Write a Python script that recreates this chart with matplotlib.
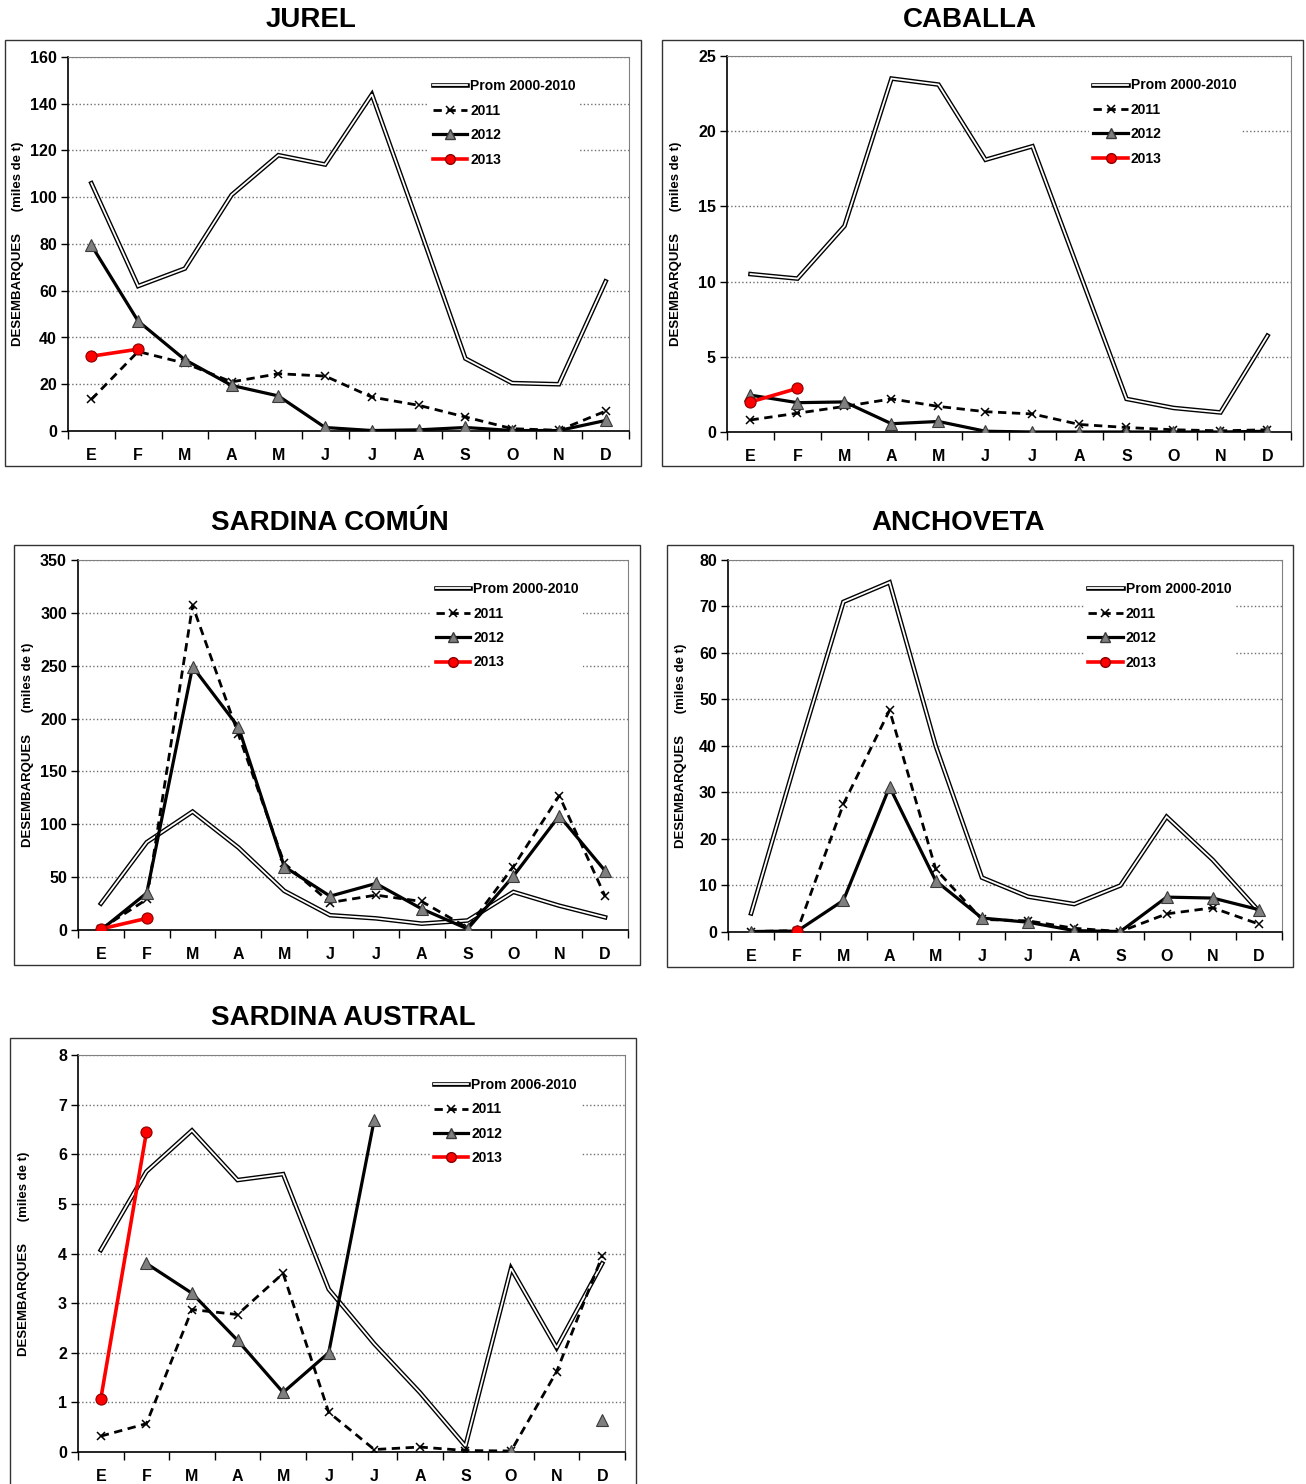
import numpy as np
import matplotlib
matplotlib.use('Agg')
import matplotlib.pyplot as plt
from matplotlib.lines import Line2D
from matplotlib.patches import Rectangle
from matplotlib.legend_handler import HandlerTuple

nan = np.nan
meses = ['E', 'F', 'M', 'A', 'M', 'J', 'J', 'A', 'S', 'O', 'N', 'D']

# JUREL
jurel_prom = [106, 62, 69.5, 101, 118, 114, 144, 88, 31, 20.5, 20, 64]
jurel_2011 = [13.5, 34, 29, 21, 24.5, 23.5, 14.5, 11, 6, 1, 0.3, 8.5]
jurel_2012 = [79.5, 47, 30.5, 19.5, 15, 1.5, 0.2, 0.5, 1.5, 0.2, 0.2, 4.5]
jurel_2013 = [32, 35]

# CABALLA
caballa_prom = [10.5, 10.2, 13.7, 23.5, 23.1, 18.1, 19.0, 10.6, 2.2, 1.6, 1.3, 6.4]
caballa_2011 = [0.8, 1.25, 1.7, 2.2, 1.7, 1.35, 1.2, 0.5, 0.3, 0.15, 0.08, 0.15]
caballa_2012 = [2.45, 1.95, 2.0, 0.55, 0.7, 0.05, 0.0, 0.0, 0.0, 0.0, 0.0, 0.05]
caballa_2013 = [2.0, 2.9]

# SARDINA COMUN
scomun_prom = [25, 83, 112, 78, 37, 14, 11, 6, 9, 36, 23, 12]
scomun_2011 = [1, 29, 307, 185, 63, 26, 33, 27, 2, 60, 127, 32]
scomun_2012 = [0, 35, 249, 192, 60, 32, 44, 20, 1, 51, 108, 56]
scomun_2013 = [1, 11]

# ANCHOVETA
anch_prom = [4, 38, 71, 75.2, 40, 11.7, 7.6, 6, 10, 24.8, 15.5, 4.5]
anch_2011 = [0.1, 0.3, 27.5, 47.7, 13.5, 2.7, 2.4, 0.8, 0.1, 3.9, 5.2, 1.7]
anch_2012 = [0.1, 0.2, 6.8, 31.2, 11, 3, 2.1, 0.3, 0.1, 7.5, 7.3, 4.8]
anch_2013 = [nan, 0.2]

# SARDINA AUSTRAL
saus_prom = [4.07, 5.65, 6.48, 5.48, 5.6, 3.28, 2.18, 1.2, 0.12, 3.7, 2.1, 3.8]
saus_2011 = [0.32, 0.57, 2.87, 2.77, 3.6, 0.8, 0.05, 0.1, 0.03, 0.02, 1.62, 3.95]
saus_2012 = [nan, 3.8, 3.2, 2.25, 1.2, 2.0, 6.7, nan, nan, 0.02, nan, 0.65]
saus_2013 = [1.07, 6.44]

NARROW = ['Liberation Sans Narrow', 'Liberation Sans', 'DejaVu Sans']
W, H = 1306, 1484

fig = plt.figure(figsize=(W / 100, H / 100), dpi=100)


def fbox(l, t, r, b):
    return [l / W, 1 - b / H, (r - l) / W, (b - t) / H]


paneles = [
    dict(titulo='JUREL', ax=(68, 57, 629, 431), caja=(5, 40, 641, 466), tpos=(311, 20), ylx=18,
         ymax=160, paso=20, prom_lab='Prom 2000-2010',
         datos=(jurel_prom, jurel_2011, jurel_2012, jurel_2013), leg=(0.63, 0.97)),
    dict(titulo='CABALLA', ax=(727, 56, 1291, 432), caja=(662, 40, 1303, 466), tpos=(970, 20), ylx=676,
         ymax=25, paso=5, prom_lab='Prom 2000-2010',
         datos=(caballa_prom, caballa_2011, caballa_2012, caballa_2013), leg=(0.63, 0.97)),
    dict(titulo='SARDINA COMÚN', ax=(78, 560, 628, 930), caja=(14, 545, 640, 965), tpos=(330, 523), ylx=28,
         ymax=350, paso=50, prom_lab='Prom 2000-2010',
         datos=(scomun_prom, scomun_2011, scomun_2012, scomun_2013), leg=(0.63, 0.97)),
    dict(titulo='ANCHOVETA', ax=(728, 560, 1282, 932), caja=(667, 545, 1293, 967), tpos=(958, 523), ylx=681,
         ymax=80, paso=10, prom_lab='Prom 2000-2010',
         datos=(anch_prom, anch_2011, anch_2012, anch_2013), leg=(0.63, 0.97)),
    dict(titulo='SARDINA AUSTRAL', ax=(78, 1055, 625, 1452), caja=(10, 1038, 636, 1495), tpos=(343, 1018), ylx=24,
         ymax=8, paso=1, prom_lab='Prom 2006-2010',
         datos=(saus_prom, saus_2011, saus_2012, saus_2013), leg=(0.63, 0.97)),
]

x = np.arange(12)

for p in paneles:
    ax = fig.add_axes(fbox(*p['ax']))
    prom, a11, a12, a13 = p['datos']

    # doble linea del promedio
    ax.plot(x, prom, color='black', lw=3.3, solid_joinstyle='miter', zorder=3)
    ax.plot(x, prom, color='white', lw=1.3, solid_joinstyle='miter', zorder=3.1)
    ax.plot(x, a11, color='black', lw=2, linestyle=(0, (3, 2)), marker='x',
            ms=6, mew=1.1, mec='black', zorder=4)
    ax.plot(x, a12, color='black', lw=2.3, marker='^', ms=8, mfc='#7f7f7f',
            mec='#3a3a3a', mew=0.8, zorder=5)
    ax.plot(np.arange(len(a13)), a13, color='#ff0000', lw=2.6, marker='o', ms=8,
            mfc='#ff0000', mec='#8b0000', mew=0.8, zorder=6)

    ax.set_xlim(-0.5, 11.5)
    ax.set_ylim(0, p['ymax'])
    ax.set_yticks(np.arange(0, p['ymax'] + p['paso'] / 2, p['paso']))
    ax.set_xticks(x)
    ax.set_xticks(np.arange(-0.5, 12, 1), minor=True)
    ax.set_xticklabels(meses)
    ax.tick_params(axis='x', which='major', length=0, pad=12)
    ax.tick_params(axis='x', which='minor', length=6, direction='out', width=1)
    ax.tick_params(axis='y', length=5, direction='out', width=1, pad=3)
    for lab in ax.get_xticklabels() + ax.get_yticklabels():
        lab.set_fontfamily(NARROW)
        lab.set_fontweight('bold')
        lab.set_fontsize(11.5)

    ax.yaxis.grid(True, linestyle=':', color='#707070', lw=1)
    ax.set_axisbelow(True)
    ax.spines['left'].set_color('black')
    ax.spines['bottom'].set_color('black')
    ax.spines['left'].set_linewidth(1.2)
    ax.spines['bottom'].set_linewidth(1.2)
    ax.spines['top'].set_color('#808080')
    ax.spines['right'].set_color('#808080')

    h_prom = (Line2D([], [], color='black', lw=3.3), Line2D([], [], color='white', lw=1.3))
    h11 = Line2D([], [], color='black', lw=2, linestyle=(0, (3, 2)), marker='x', ms=6, mew=1.1)
    h12 = Line2D([], [], color='black', lw=2.3, marker='^', ms=7, mfc='#7f7f7f', mec='#3a3a3a')
    h13 = Line2D([], [], color='#ff0000', lw=2.6, marker='o', ms=7, mfc='#ff0000', mec='#8b0000')
    leg = ax.legend([h_prom, h11, h12, h13], [p['prom_lab'], '2011', '2012', '2013'],
                    handler_map={tuple: HandlerTuple(ndivide=1, pad=0)},
                    loc='upper left', bbox_to_anchor=p['leg'], frameon=True,
                    facecolor='white', edgecolor='none', framealpha=1,
                    prop={'family': NARROW, 'weight': 'bold', 'size': 10},
                    handlelength=2.5, handletextpad=0.2, labelspacing=0.75,
                    borderpad=0.3, fancybox=False)
    leg.set_zorder(10)

    fig.text(p['ylx'] / W, 1 - (p['ax'][1] + p['ax'][3]) / 2 / H,
             'DESEMBARQUES      (miles de t)', rotation=90, ha='center', va='center',
             fontsize=9.5, fontweight='bold', family=['Liberation Sans', 'DejaVu Sans'])
    fig.text(p['tpos'][0] / W, 1 - p['tpos'][1] / H, p['titulo'], ha='center', va='center',
             fontsize=20, fontweight='bold', family=NARROW)

    l, t, r, b = p['caja']
    fig.patches.append(Rectangle((l / W, 1 - b / H), (r - l) / W, (b - t) / H,
                                 transform=fig.transFigure, fill=False,
                                 edgecolor='#333333', lw=1))

fig.savefig('out.png', dpi=100)
